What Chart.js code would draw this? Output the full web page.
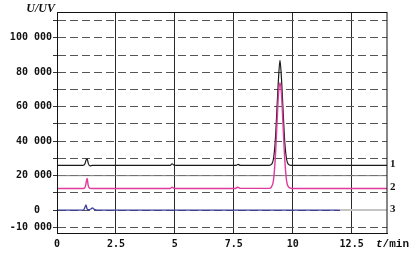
<!DOCTYPE html>
<html>
<head>
<meta charset="utf-8">
<script src="https://cdn.jsdelivr.net/npm/chart.js@4.4.0/dist/chart.umd.min.js"></script>
<style>
  html, body { margin: 0; padding: 0; background: #fff; }
</style>
</head>
<body>
<canvas id="chart" width="417" height="259"></canvas>
<script>
// trace 1 (black)
const time1 = [0, 1.10, 1.18, 1.24, 1.28, 1.33, 1.40, 1.50, 4.80, 4.88, 4.95, 5.05, 7.60, 7.68, 7.78,
  9.00, 9.10, 9.18, 9.26, 9.34, 9.40, 9.46, 9.52, 9.58, 9.66, 9.74, 9.82, 9.92, 14];
const signal1 = [26000, 26000, 26800, 29200, 29800, 27000, 25700, 26000, 26000, 26900, 26200, 26000, 26000, 26500, 26000,
  26000, 26500, 29500, 40000, 61000, 77000, 87000, 77000, 61000, 40000, 29500, 26500, 26000, 26000];

// trace 2 (pink)
const time2 = [0, 1.12, 1.20, 1.25, 1.28, 1.32, 1.40, 1.55, 4.80, 4.88, 4.96, 5.10, 7.55, 7.66, 7.80,
  9.00, 9.10, 9.18, 9.26, 9.34, 9.40, 9.46, 9.52, 9.58, 9.66, 9.74, 9.82, 9.92, 10.0, 14];
const signal2 = [12500, 12500, 13500, 17000, 18400, 14500, 12600, 12500, 12500, 13300, 12700, 12500, 12500, 13300, 12600,
  12600, 13500, 17000, 30000, 52000, 68000, 74000, 68000, 52000, 30000, 17000, 13500, 12700, 12500, 12500];

// trace 3 (blue, then grey tail)
const time3 = [0, 1.12, 1.19, 1.23, 1.28, 1.34, 1.44, 1.50, 1.58, 1.70, 12.0];
const signal3 = [0, 0, 1800, 3000, 600, 200, 600, 1300, 400, 0, 0];
const time3Tail = [12.0, 14];
const signal3Tail = [0, 0];

// solid reference line
const refTime = [0, 14];
const refSignal = [20000, 20000];

const traceNames = ['1', '2', '3'];
const traceBaselines = [26000, 12500, 0];

const xTicks = [0, 2.5, 5, 7.5, 10, 12.5];
const xTickLabels = ['0', '2.5', '5', '7.5', '10', '12.5'];
const yGrid = [-10000, 0, 10000, 20000, 30000, 40000, 50000, 60000, 70000, 80000, 90000, 100000, 110000];
const yTickValues = [-10000, 0, 20000, 40000, 60000, 80000, 100000];
const yTickLabels = ['-10 000', '0  ', '20 000', '40 000', '60 000', '80 000', '100 000'];

const toPoints = (xs, ys) => xs.map((x, i) => ({ x: x, y: ys[i] }));

const tickFont = { family: 'DejaVu Sans Mono', size: 10, weight: 'bold' };

const decorations = {
  id: 'decorations',
  afterDraw(chart) {
    const { ctx, chartArea: a, scales } = chart;
    ctx.save();
    ctx.strokeStyle = '#111';
    ctx.lineWidth = 1;
    ctx.strokeRect(a.left + 0.5, a.top + 0.5, a.right - a.left - 0.5, a.bottom - a.top);

    ctx.fillStyle = '#111';
    ctx.textBaseline = 'middle';
    ctx.textAlign = 'right';
    ctx.font = 'italic bold 12px "Liberation Serif"';
    ctx.fillText('U/UV', a.left - 2, a.top - 3);

    ctx.textAlign = 'left';
    ctx.font = 'italic bold 11px "Liberation Mono"';
    ctx.fillText('t', a.right - 11, a.bottom + 11);
    ctx.font = 'bold 11px "Liberation Mono"';
    ctx.fillText('/min', a.right - 11 + 6.6, a.bottom + 11);

    ctx.font = 'bold 11px "Liberation Serif"';
    traceNames.forEach((name, i) => {
      ctx.fillText(name, a.right + 3, scales.y.getPixelForValue(traceBaselines[i]) - 1);
    });
    ctx.restore();
  }
};

const ctx = document.getElementById('chart').getContext('2d');
new Chart(ctx, {
  type: 'line',
  data: {
    datasets: [
      { data: toPoints(time2, signal2), borderColor: '#e03a9c', borderWidth: 1.4, order: 1 },
      { data: toPoints(time1, signal1), borderColor: '#1a1a1a', borderWidth: 1.2, order: 2 },
      { data: toPoints(time3, signal3), borderColor: '#3d3d98', borderWidth: 1.3, order: 3 },
      { data: toPoints(time3Tail, signal3Tail), borderColor: '#c4c4c4', borderWidth: 2, order: 4 },
      { data: toPoints(refTime, refSignal), borderColor: '#777', borderWidth: 1, order: 5 }
    ]
  },
  options: {
    responsive: false,
    animation: false,
    devicePixelRatio: 1,
    layout: { padding: { top: 12, right: 30, left: 0, bottom: 0 } },
    elements: {
      point: { radius: 0 },
      line: { cubicInterpolationMode: 'monotone' }
    },
    plugins: { legend: { display: false }, tooltip: { enabled: false } },
    scales: {
      x: {
        type: 'linear',
        min: 0,
        max: 14,
        afterFit: (s) => { s.height = 26; },
        afterBuildTicks: (s) => { s.ticks = xTicks.map((v) => ({ value: v })); },
        ticks: {
          font: tickFont,
          color: '#111',
          padding: 5,
          maxRotation: 0,
          callback: (v) => xTickLabels[xTicks.indexOf(v)]
        },
        grid: { color: '#2a2a2a', lineWidth: 1, drawTicks: false },
        border: { color: '#111', width: 1 }
      },
      y: {
        min: -13300,
        max: 115000,
        afterFit: (s) => { s.width = 57; },
        afterBuildTicks: (s) => { s.ticks = yGrid.map((v) => ({ value: v })); },
        ticks: {
          font: tickFont,
          color: '#111',
          padding: 1,
          callback: (v) => {
            const i = yTickValues.indexOf(v);
            return i >= 0 ? yTickLabels[i] : '';
          }
        },
        grid: { color: '#555', lineWidth: 1, tickLength: 4, tickColor: '#333' },
        border: { color: '#111', width: 1, dash: [8, 4] }
      }
    }
  },
  plugins: [decorations]
});
</script>
</body>
</html>
